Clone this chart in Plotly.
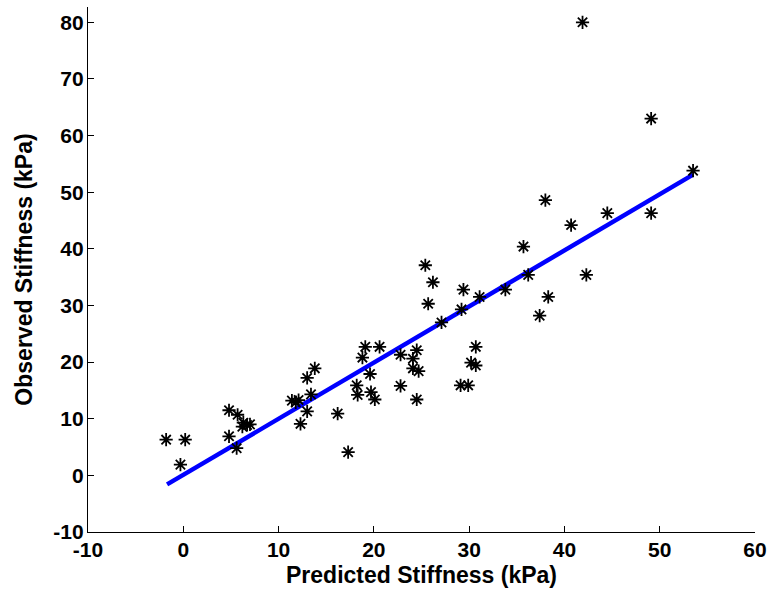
import plotly.graph_objects as go

predicted = [-1.8, 0.2, -0.3, 4.8, 5.7, 6.3, 6.7, 6.2, 7.0, 4.8, 5.6,
             11.4, 11.8, 12.1, 12.3, 13.0, 13.8, 13.4, 13.0, 16.2, 17.3,
             19.1, 20.6, 18.8, 19.6, 18.2, 18.3, 19.7, 20.1, 22.8, 24.1,
             24.5, 24.1, 24.7, 22.8, 24.5, 25.4, 26.2, 25.7, 29.4, 31.1,
             29.2, 27.1, 33.8, 36.2, 30.7, 30.2, 30.7, 29.1, 29.9, 38.0,
             40.7, 44.5, 49.1, 35.7, 42.3, 38.3, 37.4, 41.9, 49.1, 53.5]
observed = [6.3, 6.3, 1.9, 11.5, 10.7, 9.3, 8.9, 8.6, 9.0, 6.9, 4.8,
            13.2, 12.9, 13.3, 9.1, 17.2, 18.9, 14.3, 11.3, 10.9, 4.1,
            22.7, 22.7, 20.8, 17.9, 15.9, 14.2, 14.7, 13.4, 21.3, 20.6,
            22.1, 18.9, 18.4, 15.8, 13.4, 37.1, 34.1, 30.3, 32.8, 31.5,
            29.3, 27.0, 32.8, 35.4, 22.7, 19.9, 19.4, 15.9, 15.9, 48.6,
            44.2, 46.3, 46.3, 40.4, 35.4, 31.5, 28.2, 80.0, 63.0, 53.8]

fit_x = [-1.7, 53.5]
fit_y = [-1.6, 53.1]

x_ticks = [-10, 0, 10, 20, 30, 40, 50, 60]
y_ticks = [-10, 0, 10, 20, 30, 40, 50, 60, 70, 80]

font_family = "Liberation Sans, Arial, sans-serif"

fig = go.Figure()
fig.add_trace(go.Scatter(
    x=fit_x, y=fit_y, mode="lines",
    line=dict(color="#0000ff", width=4.5),
    showlegend=False, hoverinfo="skip"))
fig.add_trace(go.Scatter(
    x=predicted, y=observed, mode="markers",
    marker=dict(symbol="asterisk-open", size=11, color="black",
                line=dict(color="black", width=1.8)),
    showlegend=False))

axis_common = dict(
    showgrid=False, zeroline=False, showline=True, linecolor="black",
    linewidth=1.3, ticks="inside", ticklen=6, tickwidth=1.3, tickcolor="black",
    tickfont=dict(family=font_family, size=21, color="black", weight="bold"),
    mirror=False)

fig.update_layout(
    width=773, height=608,
    margin=dict(l=88, r=18, t=7, b=76),
    paper_bgcolor="white", plot_bgcolor="white",
    font=dict(family=font_family, color="black"),
    xaxis=dict(range=[-10, 60], tickvals=x_ticks,
               ticktext=[str(v) for v in x_ticks],
               title=dict(text="<b>Predicted Stiffness (kPa)</b>",
                          font=dict(family=font_family, size=23, color="black"),
                          standoff=6),
               ticklabelstandoff=-1,
               **axis_common),
    yaxis=dict(range=[-10, 82.7], tickvals=y_ticks,
               ticktext=[str(v) for v in y_ticks],
               title=dict(text="<b>Observed Stiffness (kPa)</b>",
                          font=dict(family=font_family, size=23, color="black"),
                          standoff=14),
               ticklabelstandoff=-1,
               **axis_common),
)

fig.write_html("out.html")
